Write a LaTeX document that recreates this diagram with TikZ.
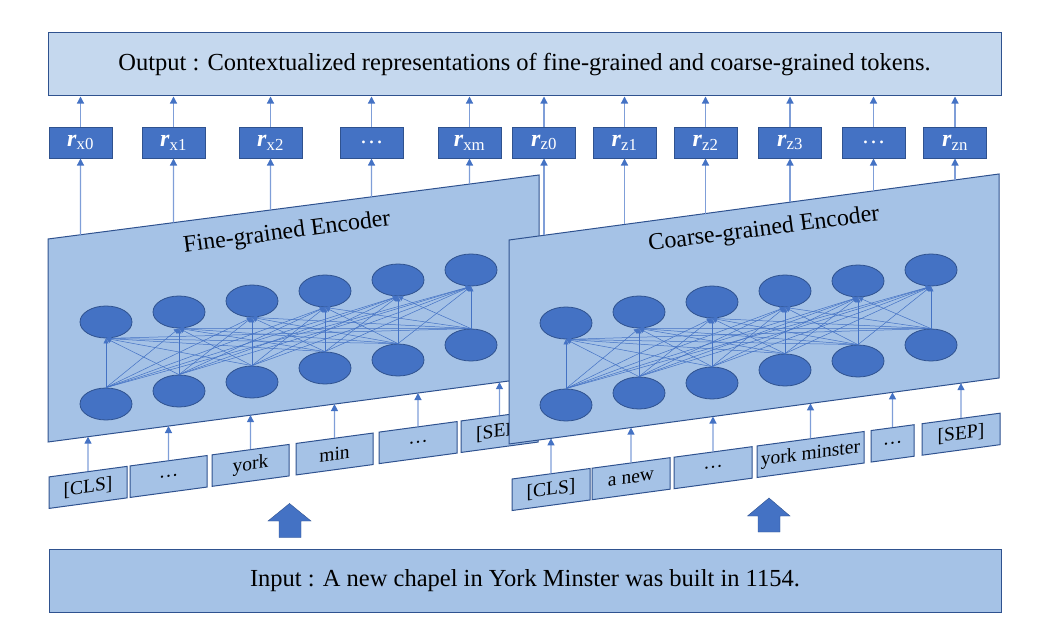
\documentclass[tikz,border=0pt]{standalone}
\usepackage{fontspec}
\setmainfont{Liberation Serif}
\usetikzlibrary{arrows.meta,shapes.geometric}
\definecolor{deep}{HTML}{4472C4}
\definecolor{edge}{HTML}{2F528F}
\definecolor{pale}{HTML}{A5C2E6}
\definecolor{paler}{HTML}{C5D8EE}
\definecolor{shaft}{HTML}{7F9ED8}
\newcommand{\rlab}[1]{\textbf{\textit{r}}\textsubscript{#1}}
\tikzset{%
	up/.style={draw=shaft,line width=1.2pt,-{Triangle[length=7pt,width=7pt,color=deep]}},
	link/.style={draw=deep,line width=0.5pt,-{Triangle[length=5pt,width=5pt]}}
}

\begin{document}
\begin{tikzpicture}[x=1pt,y=-1pt,
	box/.style={rectangle,draw=edge,line width=1pt,inner sep=0pt,font=\fontsize{24.5}{25}\selectfont},
	rep/.style={rectangle,draw=edge,fill=deep,text=white,line width=1pt,minimum width=63,minimum height=31,inner sep=0pt,font=\fontsize{24}{24}\selectfont},
	tok/.style={rectangle,draw=edge,fill=pale,line width=1pt,yslant=0.135,minimum width=#1,minimum height=31.5,inner sep=0pt,font=\fontsize{19.5}{20}\selectfont},
	panel/.style={draw=edge,fill=pale,line width=1pt},
	title/.style={font=\fontsize{24}{24}\selectfont,rotate=7.5},
	neuron/.style={ellipse,draw=edge,fill=deep,line width=0.8pt,minimum width=52,minimum height=32,inner sep=0pt}]
	\useasboundingbox (0,0) rectangle (1058,634);
	% output and representations
	\node [box, fill=paler, minimum width=953, minimum height=63.5] (out) at (524.5,64.25) {Output : Contextualized representations of fine-grained and coarse-grained tokens.};
	\node [rep] (rx0) at (80.5,142.5) {\rlab{x0}};
	\node [rep] (rx1) at (173.5,142.5) {\rlab{x1}};
	\node [rep] (rx2) at (270.5,142.5) {\rlab{x2}};
	\node [rep] (rxd) at (371.5,142.5) {…};
	\node [rep] (rxm) at (469.5,142.5) {\rlab{xm}};
	\node [rep] (rz0) at (544,142.5) {\rlab{z0}};
	\node [rep] (rz1) at (624.5,142.5) {\rlab{z1}};
	\node [rep] (rz2) at (705.5,142.5) {\rlab{z2}};
	\node [rep] (rz3) at (790,142.5) {\rlab{z3}};
	\node [rep] (rzd) at (873.5,142.5) {…};
	\node [rep] (rzn) at (955,142.5) {\rlab{zn}};
	\foreach \n in {rx0,rx1,rx2,rxd,rxm,rz0,rz1,rz2,rz3,rzd,rzn}
		\draw [up] (\n) -- (\n |- out.south);
	% fine-grained encoder
	\coordinate (fnw) at (48,239);
	\coordinate (fne) at (539,175);
	\coordinate (fse) at (539,377);
	\coordinate (fsw) at (48,442);
	\draw [panel] (fnw) -- (fne) -- (fse) -- (fsw) -- cycle;
	\node [title] (ftitle) at (287,233) {Fine-grained Encoder};
	\foreach \x/\yt/\yb [count=\i] in {106/322/404, 179/312/391, 252/301/382, 325/291/368, 398/280/360, 471/270/345} {
		\node [neuron] (ft\i) at (\x,\yt) {};
		\node [neuron] (fb\i) at (\x,\yb) {};
	}
	\foreach \i in {1,...,6}
		\foreach \j in {1,...,6}
			\draw [link] (fb\i.north) -- (ft\j.south);
	\foreach \n in {rx0,rx1,rx2,rxd,rxm}
		\draw [up] (intersection of fnw--fne and \n.south--\n.north) -- (\n);
	\node [tok=78] (fw1) at (88,487.4) {[CLS]};
	\node [tok=77] (fw2) at (168.5,476.5) {…};
	\node [tok=77] (fw3) at (250.5,465.4) {york};
	\node [tok=77] (fw4) at (334.5,454) {min};
	\node [tok=78] (fw5) at (418,442.6) {…};
	\node [tok=77] (fw6) at (499.5,431.5) {[SEP]};
	\foreach \i in {1,...,6}
		\draw [up] (fw\i) -- (intersection of fsw--fse and fw\i.north--fw\i.south);
	% coarse-grained encoder
	\coordinate (cnw) at (509,240);
	\coordinate (cne) at (999,174);
	\coordinate (cse) at (999,378);
	\coordinate (csw) at (509,444);
	\draw [panel] (cnw) -- (cne) -- (cse) -- (csw) -- cycle;
	\node [title] (ctitle) at (764,230) {Coarse-grained Encoder};
	\foreach \x/\yt/\yb [count=\i] in {566/323/405, 639/312/393, 712/302/383, 785/291/370, 858/281/361, 931/270/345} {
		\node [neuron] (ct\i) at (\x,\yt) {};
		\node [neuron] (cb\i) at (\x,\yb) {};
	}
	\foreach \i in {1,...,6}
		\foreach \j in {1,...,6}
			\draw [link] (cb\i.north) -- (ct\j.south);
	\foreach \n in {rz0,rz1,rz2,rz3,rzd,rzn}
		\draw [up] (intersection of cnw--cne and \n.south--\n.north) -- (\n);
	\node [tok=78] (cw1) at (551,489.5) {[CLS]};
	\node [tok=78] (cw2) at (631,478.7) {a new};
	\node [tok=78] (cw3) at (713,467.7) {…};
	\node [tok=107] (cw4) at (810.5,454.5) {york minster};
	\node [tok=43] (cw5) at (892.5,443.4) {…};
	\node [tok=78] (cw6) at (961,434.2) {[SEP]};
	\foreach \i in {1,...,6}
		\draw [up] (cw\i) -- (intersection of csw--cse and cw\i.north--cw\i.south);
	% input
	\node [box, fill=pale, minimum width=952, minimum height=63] (in) at (525,580.5) {Input : A new chapel in York Minster was built in 1154.};
	\draw [draw=edge, fill=deep] (279,537.5) -- (279,521) -- (268,521) -- (289.5,503.5) -- (311,521) -- (301,521) -- (301,537.5) -- cycle;
	\draw [draw=edge, fill=deep] (758,532) -- (758,516) -- (747.5,516) -- (769,498) -- (790,516) -- (780,516) -- (780,532) -- cycle;
\end{tikzpicture}
\end{document}
